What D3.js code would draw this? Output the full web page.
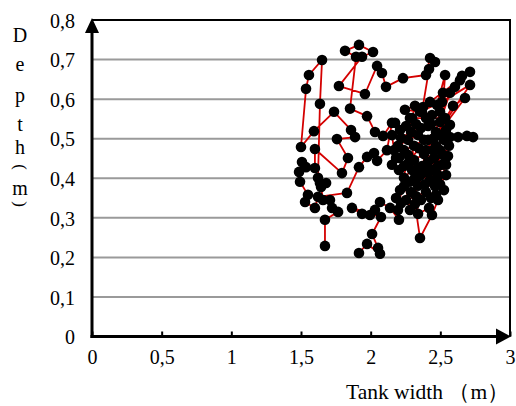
<!DOCTYPE html>
<html>
<head>
<meta charset="utf-8">
<script src="https://cdn.jsdelivr.net/npm/d3@7/dist/d3.min.js"></script>
<style>
  html, body { margin: 0; padding: 0; background: #fff; }
  svg { display: block; }
</style>
</head>
<body>
<svg id="chart" width="516" height="406"></svg>
<script>
// Tracked position of the object across the tank (width, depth), in metres
const widthM = [
  1.672, 1.672, 1.766, 1.723, 1.708, 1.658, 1.644, 1.680, 1.636, 1.622,
  1.636, 1.651, 1.557, 1.536, 1.500, 1.593, 1.737, 1.859, 1.888, 1.758,
  1.837, 1.794, 1.600, 1.600, 1.536, 1.507, 1.486, 1.493, 1.550, 1.529,
  1.600, 1.622, 1.830, 1.916, 1.974, 2.024, 2.046, 2.117, 2.153, 2.089,
  2.031, 1.974, 1.852, 1.895, 1.816, 1.916, 2.017, 1.938, 1.772, 1.959,
  2.046, 2.081, 2.110, 2.232, 2.397, 2.426, 2.462, 2.419, 2.368,
  2.246, 2.318, 2.297, 2.397, 2.534, 2.569, 2.505, 2.433, 2.361, 2.290,
  2.218, 2.153, 2.168, 2.203, 2.153, 2.203, 2.275, 2.347, 2.447, 2.519,
  2.562, 2.541, 2.483, 2.412, 2.340, 2.404, 2.476, 2.462, 2.526, 2.390,
  2.318, 2.239, 2.290, 2.218, 2.361, 2.433, 2.419, 2.340,
  2.282,
  2.211, 2.175, 2.239, 2.311, 2.383, 2.469, 2.519, 2.569, 2.498, 2.541,
  2.569, 2.627, 2.691, 2.735, 2.526, 2.469, 2.412, 2.340, 2.268, 2.196,
  2.182, 2.239, 2.311, 2.383, 2.455, 2.512, 2.541, 2.498, 2.426, 2.354,
  2.282, 2.211, 2.182, 2.254, 2.325, 2.397, 2.469, 2.483, 2.440, 2.354,
  2.318, 2.282, 2.239, 2.297, 2.368, 2.440, 2.498, 2.555, 2.483, 2.534,
  2.476, 2.605, 2.641, 2.412, 2.325, 2.254, 2.376, 2.426, 2.713, 2.656,
  2.498, 2.440, 2.354, 2.512, 2.713, 2.455, 2.591, 2.677, 2.397, 2.340,
  2.268, 2.196, 2.203, 2.139, 2.067, 2.031, 1.995, 1.938, 1.866, 2.074,
  2.010, 2.053, 2.067, 1.974, 1.916
];
const depthM = [
  0.229, 0.295, 0.315, 0.325, 0.345, 0.345, 0.378, 0.388, 0.388, 0.401,
  0.588, 0.699, 0.661, 0.626, 0.479, 0.519, 0.568, 0.522, 0.504, 0.499,
  0.451, 0.413, 0.474, 0.426, 0.428, 0.441, 0.416, 0.391, 0.358, 0.340,
  0.325, 0.353, 0.363, 0.428, 0.454, 0.464, 0.444, 0.471, 0.540, 0.507,
  0.517, 0.557, 0.576, 0.707, 0.722, 0.737, 0.719, 0.707, 0.633, 0.613,
  0.684, 0.666, 0.631, 0.653, 0.661, 0.704, 0.694, 0.676, 0.568,
  0.573, 0.583, 0.552, 0.552, 0.552, 0.535, 0.509, 0.537, 0.527, 0.517,
  0.502, 0.509, 0.471, 0.451, 0.434, 0.421, 0.441, 0.476, 0.471, 0.459,
  0.482, 0.434, 0.431, 0.441, 0.426, 0.416, 0.401, 0.380, 0.370, 0.385,
  0.401, 0.380, 0.365, 0.337, 0.345, 0.350, 0.325, 0.310,
  0.552,
  0.522, 0.540, 0.471, 0.482, 0.497, 0.517, 0.616, 0.616, 0.542, 0.522,
  0.504, 0.504, 0.507, 0.504, 0.497, 0.482, 0.497, 0.509, 0.497, 0.482,
  0.451, 0.431, 0.446, 0.461, 0.451, 0.434, 0.408, 0.385, 0.396, 0.406,
  0.391, 0.370, 0.350, 0.345, 0.355, 0.365, 0.358, 0.345, 0.307, 0.249,
  0.335, 0.320, 0.401, 0.421, 0.431, 0.421, 0.471, 0.456, 0.408, 0.661,
  0.585, 0.631, 0.648, 0.532, 0.537, 0.532, 0.580, 0.593, 0.669, 0.659,
  0.568, 0.560, 0.568, 0.593, 0.636, 0.502, 0.583, 0.603, 0.471, 0.381,
  0.459, 0.320, 0.295, 0.325, 0.340, 0.320, 0.307, 0.310, 0.325, 0.302,
  0.259, 0.224, 0.209, 0.234, 0.211
];

const xTicks = [0, 0.5, 1, 1.5, 2, 2.5, 3];
const xTickLabels = ["0", "0,5", "1", "1,5", "2", "2,5", "3"];
const yTicks = [0, 0.1, 0.2, 0.3, 0.4, 0.5, 0.6, 0.7, 0.8];
const yTickLabels = ["0", "0,1", "0,2", "0,3", "0,4", "0,5", "0,6", "0,7", "0,8"];
// vertical title: letters stacked, brackets turned sideways
const yTitleChars = ["D", "e", "p", "t", "h", "(", "m", ")"];
const xTitle = "Tank width （m）";

const SERIF = "'Liberation Serif', 'Times New Roman', serif";

const points = widthM.map((w, i) => ({ w, d: depthM[i] }));

const svg = d3.select("#chart");
const x = d3.scaleLinear().domain([0, 3]).range([92, 510]);
const y = d3.scaleLinear().domain([0, 0.8]).range([336.5, 20]);

svg.append("rect").attr("width", 516).attr("height", 406).attr("fill", "#fff");

// horizontal grid lines
svg.append("g")
  .selectAll("line")
  .data(yTicks.filter(t => t > 0 && t < 0.8))
  .join("line")
  .attr("x1", x(0)).attr("x2", x(3))
  .attr("y1", d => y(d)).attr("y2", d => y(d))
  .attr("stroke", "#9a9a9a").attr("stroke-width", 2);

// frame: top and right edges
svg.append("line")
  .attr("x1", x(0)).attr("x2", x(3) + 1)
  .attr("y1", y(0.8)).attr("y2", y(0.8))
  .attr("stroke", "#000").attr("stroke-width", 2);
svg.append("line")
  .attr("x1", x(3)).attr("x2", x(3))
  .attr("y1", y(0.8)).attr("y2", y(0))
  .attr("stroke", "#000").attr("stroke-width", 2);

// x axis with inward ticks
const xAxis = d3.axisBottom(x)
  .tickValues(xTicks)
  .tickFormat((d, i) => xTickLabels[i])
  .tickSizeInner(-5).tickSizeOuter(0).tickPadding(13);
const gx = svg.append("g").attr("transform", `translate(0,${y(0)})`).call(xAxis);
gx.select(".domain").remove();
gx.selectAll(".tick line").attr("stroke", "#000").attr("stroke-width", 2);
gx.selectAll(".tick text")
  .style("font-family", SERIF)
  .style("font-size", "20px")
  .attr("fill", "#000");

// y axis labels
const yAxis = d3.axisLeft(y)
  .tickValues(yTicks)
  .tickFormat((d, i) => yTickLabels[i])
  .tickSize(0).tickPadding(17);
const gy = svg.append("g").attr("transform", `translate(${x(0)},0)`).call(yAxis);
gy.select(".domain").remove();
gy.selectAll(".tick text")
  .style("font-family", SERIF)
  .style("font-size", "20px")
  .attr("fill", "#000")
  .attr("dy", "0.36em");

// axis lines with arrow heads
svg.append("line")
  .attr("x1", x(0)).attr("x2", x(0))
  .attr("y1", y(0) + 1.5).attr("y2", y(0.8) + 10)
  .attr("stroke", "#000").attr("stroke-width", 3);
svg.append("path")
  .attr("d", `M${x(0)},${y(0.8) - 2} L${x(0) - 7},${y(0.8) + 13} L${x(0) + 7},${y(0.8) + 13} Z`)
  .attr("fill", "#000");
svg.append("line")
  .attr("x1", x(0) - 1.5).attr("x2", x(3) - 10)
  .attr("y1", y(0)).attr("y2", y(0))
  .attr("stroke", "#000").attr("stroke-width", 3);
svg.append("path")
  .attr("d", `M${x(3) + 1},${y(0)} L${x(3) - 14},${y(0) - 8} L${x(3) - 14},${y(0) + 8} Z`)
  .attr("fill", "#000");

// trajectory
const line = d3.line().x(p => x(p.w)).y(p => y(p.d));
svg.append("path")
  .datum(points)
  .attr("d", line)
  .attr("fill", "none")
  .attr("stroke", "#d40000")
  .attr("stroke-width", 1.8)
  .attr("stroke-linejoin", "round");

svg.append("g")
  .selectAll("circle")
  .data(points)
  .join("circle")
  .attr("cx", p => x(p.w))
  .attr("cy", p => y(p.d))
  .attr("r", 5.3)
  .attr("fill", "#000");

// axis titles
const yCenters = [35, 64, 95, 124, 147, 167, 188, 204];
svg.append("g")
  .selectAll("text")
  .data(yTitleChars)
  .join("text")
  .attr("transform", (d, i) => `translate(20,${yCenters[i]})` + (/[()]/.test(d) ? " rotate(90)" : ""))
  .attr("text-anchor", "middle")
  .attr("dy", d => /[()]/.test(d) ? "0.3em" : "0.33em")
  .attr("fill", "#000")
  .style("font-size", d => /[()]/.test(d) ? "17px" : "20px")
  .style("font-family", SERIF)
  .text(d => d);

svg.append("text")
  .attr("x", 346)
  .attr("y", 399)
  .attr("fill", "#000")
  .style("font-size", "21.5px")
  .style("font-family", SERIF)
  .text(xTitle);
</script>
</body>
</html>
